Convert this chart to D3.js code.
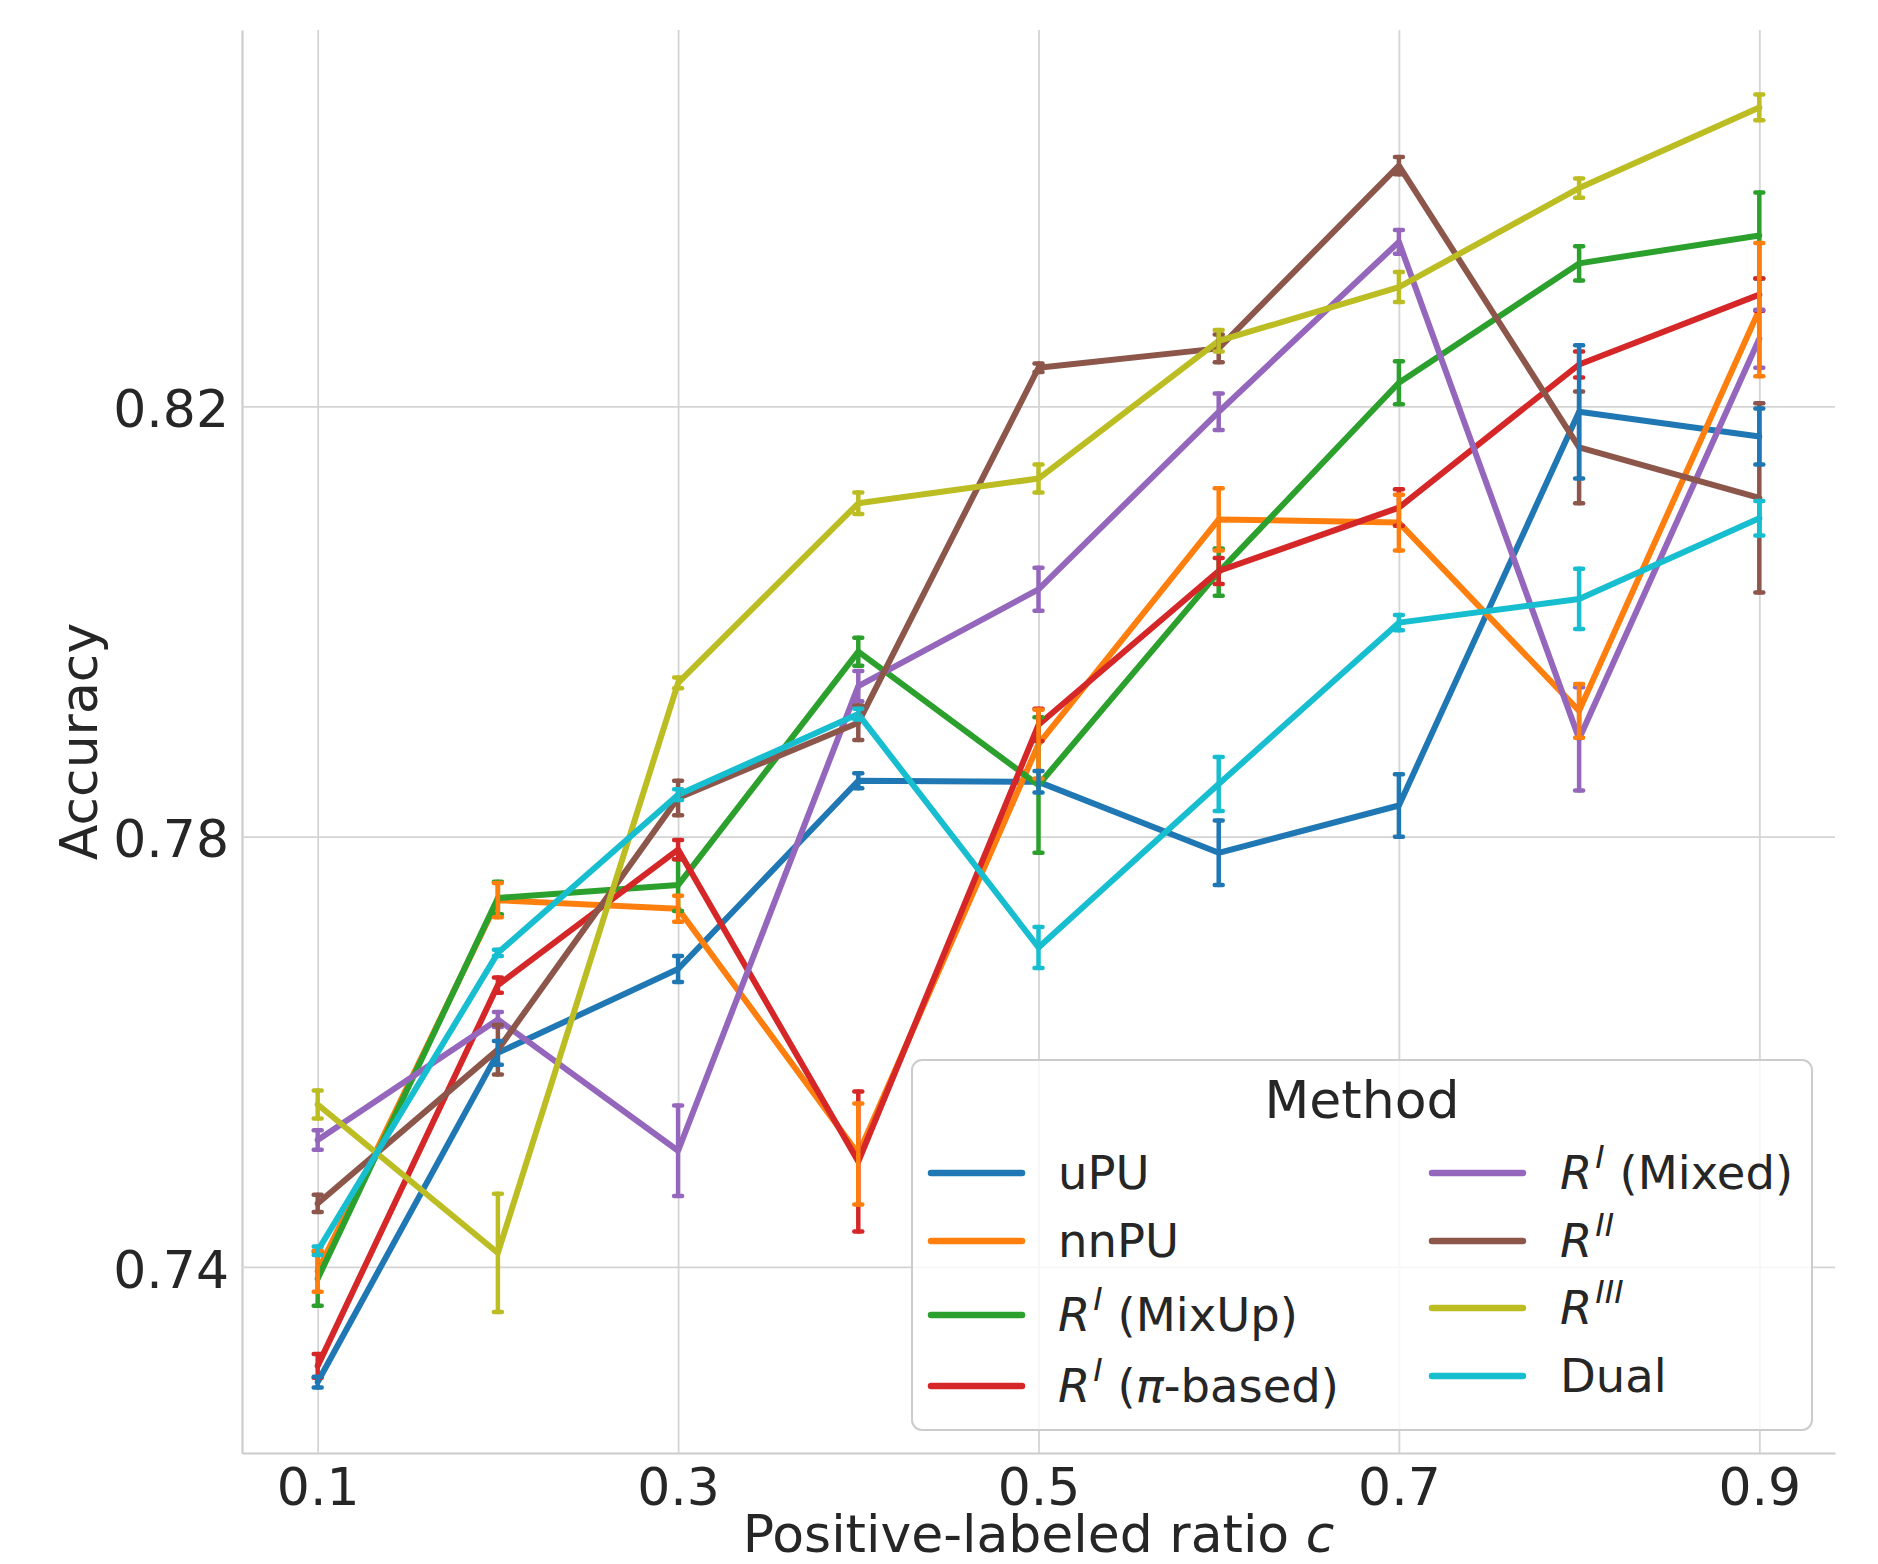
<!DOCTYPE html>
<html>
<head>
<meta charset="utf-8">
<script src="https://cdn.jsdelivr.net/npm/d3@7"></script>
<style>
    body { margin: 0; background: #ffffff; }
    text { font-family: "DejaVu Sans", sans-serif; fill: #262626; }
</style>
</head>
<body>
<div id="chart"></div>
<script>

// x positions (positive-labeled ratio c)
const cValues = [0.1, 0.2, 0.3, 0.4, 0.5, 0.6, 0.7, 0.8, 0.9];
const xTicks = [0.1, 0.3, 0.5, 0.7, 0.9];
const yTicks = [0.74, 0.78, 0.82];

const methodNames = ["uPU", "nnPU", "R^I (MixUp)", "R^I (pi-based)", "R^I (Mixed)", "R^II", "R^III", "Dual"];
const methodColors = ["#1f77b4", "#ff7f0e", "#2ca02c", "#d62728", "#9467bd", "#8c564b", "#bcbd22", "#17becf"];

// mean accuracy
const uPU       = [0.7293, 0.7599, 0.7677, 0.7852, 0.7851, 0.7785, 0.7829, 0.8195, 0.8172];
const nnPU      = [0.7396, 0.7741, 0.7733, 0.7505, 0.7886, 0.8095, 0.8092, 0.7917, 0.8290];
const rMixUp    = [0.7389, 0.7743, 0.7755, 0.7972, 0.7848, 0.8046, 0.8222, 0.8333, 0.8359];
const rPiBased  = [0.7308, 0.7662, 0.7788, 0.7498, 0.7904, 0.8047, 0.8106, 0.8239, 0.8304];
const rMixed    = [0.7518, 0.7630, 0.7508, 0.7940, 0.8030, 0.8195, 0.8353, 0.7891, 0.8263];
const rII       = [0.7459, 0.7602, 0.7836, 0.7906, 0.8236, 0.8254, 0.8424, 0.8162, 0.8115];
const rIII      = [0.7551, 0.7413, 0.7943, 0.8110, 0.8133, 0.8261, 0.8311, 0.8403, 0.8478];
const dual      = [0.7415, 0.7692, 0.7839, 0.7914, 0.7697, 0.7849, 0.7999, 0.8021, 0.8096];

// half length of the error bars
const uPUErr      = [0.0005, 0.0011, 0.0012, 0.0007, 0.0010, 0.0030, 0.0029, 0.0062, 0.0026];
const nnPUErr     = [0.0019, 0.0016, 0.0012, 0.0047, 0.0032, 0.0029, 0.0026, 0.0025, 0.0062];
const rMixUpErr   = [0.0025, 0.0015, 0.0024, 0.0013, 0.0063, 0.0022, 0.0020, 0.0016, 0.0040];
const rPiBasedErr = [0.0011, 0.0007, 0.0009, 0.0065, 0.0015, 0.0012, 0.0017, 0.0012, 0.0015];
const rMixedErr   = [0.0009, 0.0007, 0.0042, 0.0014, 0.0020, 0.0017, 0.0011, 0.0048, 0.0027];
const rIIErr      = [0.0008, 0.0023, 0.0016, 0.0016, 0.0004, 0.0013, 0.0008, 0.0052, 0.0088];
const rIIIErr     = [0.0013, 0.0055, 0.0005, 0.0010, 0.0013, 0.0010, 0.0014, 0.0009, 0.0012];
const dualErr     = [0.0004, 0.0003, 0.0005, 0.0005, 0.0019, 0.0025, 0.0007, 0.0028, 0.0016];

const allMeans = [uPU, nnPU, rMixUp, rPiBased, rMixed, rII, rIII, dual];
const allErrs = [uPUErr, nnPUErr, rMixUpErr, rPiBasedErr, rMixedErr, rIIErr, rIIIErr, dualErr];

// order in which the error bars are stacked (last one on top)
const errOrder = [2, 3, 4, 5, 6, 1, 0, 7];

// legend labels split in pieces: n = normal, i = italic, s = italic superscript
const legendLabels = [
    [["uPU", "n"]],
    [["nnPU", "n"]],
    [["R", "i"], ["I", "s"], [" (MixUp)", "n"]],
    [["R", "i"], ["I", "s"], [" (", "n"], ["π", "i"], ["-based)", "n"]],
    [["R", "i"], ["I", "s"], [" (Mixed)", "n"]],
    [["R", "i"], ["II", "s"]],
    [["R", "i"], ["III", "s"]],
    [["Dual", "n"]]
];


//size of the drawing
let W = 1878, H = 1564;
let margin = {top: 30, right: 43, bottom: 111, left: 242};
let width = W - margin.left - margin.right;
let height = H - margin.top - margin.bottom;

let svg = d3.select("#chart").append("svg")
    .attr("width", W)
    .attr("height", H);

let g = svg.append("g")
    .attr("transform", `translate(${margin.left}, ${margin.top})`);

//scales
let x = d3.scaleLinear().domain([0.058, 0.942]).range([0, width]);
let y = d3.scaleLinear().domain([0.7227, 0.8550]).range([height, 0]);

//axes with grid lines
let xAxis = g.append("g")
    .attr("transform", `translate(0, ${height})`)
    .call(d3.axisBottom(x).tickValues(xTicks).tickSize(-height).tickSizeOuter(0)
        .tickPadding(15).tickFormat(d3.format(".1f")));

let yAxis = g.append("g")
    .call(d3.axisLeft(y).tickValues(yTicks).tickSize(-width).tickSizeOuter(0)
        .tickPadding(13).tickFormat(d3.format(".2f")));

[xAxis, yAxis].forEach(ax => {
    ax.selectAll(".tick line").attr("stroke", "#d4d4d4").attr("stroke-width", 1.8);
    ax.select(".domain").attr("stroke", "#cccccc").attr("stroke-width", 2.2);
    ax.selectAll(".tick text")
        .style("font-family", "DejaVu Sans")
        .style("font-size", "52px")
        .attr("fill", "#262626");
});
yAxis.selectAll(".tick text").attr("dy", "0.39em");

//axis titles
g.append("text")
    .attr("x", width / 2)
    .attr("y", height + 99)
    .attr("text-anchor", "middle")
    .style("font-size", "52px")
    .text("Positive-labeled ratio ")
    .append("tspan").style("font-style", "italic").text("c");

g.append("text")
    .attr("transform", `translate(${97 - margin.left}, ${height / 2}) rotate(-90)`)
    .attr("text-anchor", "middle")
    .style("font-size", "52px")
    .text("Accuracy");

//lines
let line = d3.line()
    .x((d, i) => x(cValues[i]))
    .y(d => y(d));

g.selectAll(".series")
    .data(allMeans)
    .enter()
    .append("path")
    .attr("class", "series")
    .attr("d", line)
    .attr("fill", "none")
    .attr("stroke", (d, i) => methodColors[i])
    .attr("stroke-width", 6)
    .attr("stroke-linejoin", "round")
    .attr("stroke-linecap", "round");

//error bars
errOrder.forEach(k => {
    let bars = g.append("g").attr("stroke", methodColors[k]).attr("stroke-linecap", "round");
    allMeans[k].forEach((m, i) => {
        let cx = x(cValues[i]);
        let lo = y(m - allErrs[k][i]);
        let hi = y(m + allErrs[k][i]);
        bars.append("line")
            .attr("x1", cx).attr("x2", cx)
            .attr("y1", lo).attr("y2", hi)
            .attr("stroke-width", 4.5);
        [lo, hi].forEach(cy => {
            bars.append("line")
                .attr("x1", cx - 4).attr("x2", cx + 4)
                .attr("y1", cy).attr("y2", cy)
                .attr("stroke-width", 4.5);
        });
    });
});

//legend
let legend = svg.append("g");

legend.append("rect")
    .attr("x", 912).attr("y", 1060)
    .attr("width", 900).attr("height", 370)
    .attr("rx", 10).attr("ry", 10)
    .attr("fill", "#ffffff").attr("fill-opacity", 0.8)
    .attr("stroke", "#cccccc").attr("stroke-width", 2);

legend.append("text")
    .attr("x", 1362).attr("y", 1118)
    .attr("text-anchor", "middle")
    .style("font-size", "52px")
    .text("Method");

// row heights of both legend columns
let leftRows = [1173, 1241, 1315, 1386];
let rightRows = [1173, 1241, 1308, 1376];

methodNames.forEach((name, i) => {
    let col = i < 4 ? 0 : 1;
    let rowY = col === 0 ? leftRows[i] : rightRows[i - 4];
    let x0 = col === 0 ? 931 : 1432;
    let tx = col === 0 ? 1058 : 1560;

    legend.append("line")
        .attr("x1", x0).attr("x2", x0 + 91)
        .attr("y1", rowY).attr("y2", rowY)
        .attr("stroke", methodColors[i])
        .attr("stroke-width", 6.5)
        .attr("stroke-linecap", "round");

    let label = legend.append("text")
        .attr("x", tx).attr("y", rowY + 16)
        .style("font-size", "46.5px");

    let raised = false;
    legendLabels[i].forEach(([txt, kind]) => {
        let span = label.append("tspan").text(txt);
        if (kind === "i") span.style("font-style", "italic");
        if (kind === "s") {
            span.style("font-style", "italic").style("font-size", "32px").attr("dx", 3).attr("dy", -21);
            raised = true;
        } else if (raised) {
            span.attr("dy", 21);
            raised = false;
        }
    });
});

</script>
</body>
</html>
